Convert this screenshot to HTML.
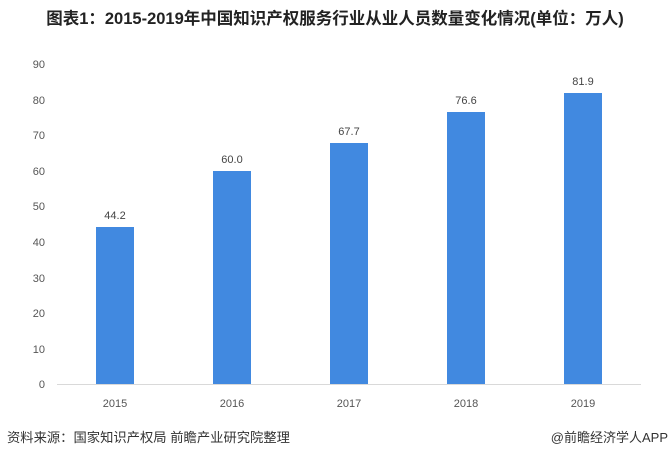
<!DOCTYPE html>
<html><head><meta charset="utf-8"><style>
body{margin:0;background:#fff;}
svg text{font-family:"Liberation Sans","Noto Sans CJK SC",sans-serif;}
</style></head><body>
<svg width="670" height="458" xmlns="http://www.w3.org/2000/svg">
<rect width="670" height="458" fill="#fff"/>
<text x="335" y="24" text-anchor="middle" font-size="16.5" font-weight="bold" fill="#222">图表1：2015-2019年中国知识产权服务行业从业人员数量变化情况(单位：万人)</text>
<g font-size="11" fill="#555" text-anchor="end">
<text x="45" y="388">0</text><text x="45" y="353">10</text><text x="45" y="317">20</text><text x="45" y="282">30</text><text x="45" y="246">40</text><text x="45" y="210">50</text><text x="45" y="175">60</text><text x="45" y="139">70</text><text x="45" y="104">80</text><text x="45" y="68">90</text>
</g>
<line x1="57" y1="384.5" x2="641" y2="384.5" stroke="#d9d9d9" stroke-width="1"/>
<g fill="#4189e0">
<rect x="96" y="227" width="38" height="157"/>
<rect x="213" y="171" width="38" height="213"/>
<rect x="330" y="143" width="38" height="241"/>
<rect x="447" y="112" width="38" height="272"/>
<rect x="564" y="93" width="38" height="291"/>
</g>
<g font-size="11" fill="#444" text-anchor="middle">
<text x="115" y="219">44.2</text><text x="232" y="163">60.0</text><text x="349" y="135">67.7</text><text x="466" y="104">76.6</text><text x="583" y="85">81.9</text>
</g>
<g font-size="11" fill="#555" text-anchor="middle">
<text x="115" y="407">2015</text><text x="232" y="407">2016</text><text x="349" y="407">2017</text><text x="466" y="407">2018</text><text x="583" y="407">2019</text>
</g>
<text x="7" y="442" font-size="13.3" fill="#333">资料来源：国家知识产权局 前瞻产业研究院整理</text>
<text x="668" y="442" font-size="13" fill="#333" text-anchor="end">@前瞻经济学人APP</text>
</svg>
</body></html>
